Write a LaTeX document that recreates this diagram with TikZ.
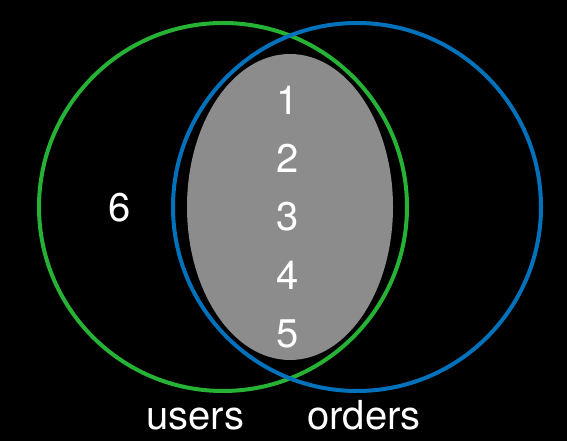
\documentclass[tikz,border=0pt]{standalone}
\usepackage{fontspec}
\setmainfont{TeX Gyre Heros}
\usetikzlibrary{shapes.geometric,positioning}
\definecolor{usersgreen}{RGB}{38,178,52}
\definecolor{ordersblue}{RGB}{0,114,188}
\definecolor{matchgrey}{RGB}{140,140,140}

\begin{document}
\begin{tikzpicture}[x=1pt,y=1pt,
  set/.style={circle,draw,line width=4pt,minimum size=368pt,inner sep=0pt},
  num/.style={text=white,inner sep=0pt,font=\fontsize{40}{40}\selectfont}]
\fill[black] (0,0) rectangle (567,441);
\useasboundingbox (0,0) rectangle (567,441);
\node[ellipse, fill=matchgrey, minimum width=206pt, minimum height=306pt, inner sep=0pt] (both) at (290,234) {};
\node[set, draw=usersgreen] (users) at (223,234) {};
\node[set, draw=ordersblue] (orders) at (357,234) {};
\foreach \i in {1,...,5}
  \node[num] (n\i) at (288,399-58.3*\i) {\i};
\node[num] (n6) at (120,233) {6};
\node[num, anchor=base] (userslabel) at (195,11) {users};
\node[num, anchor=base] (orderslabel) at (364,11) {orders};
\end{tikzpicture}
\end{document}
